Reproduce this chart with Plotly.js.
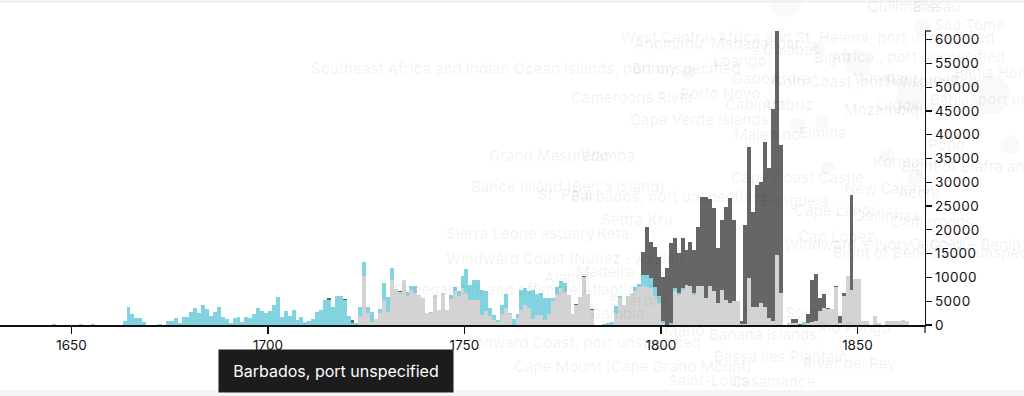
<!DOCTYPE html>
<html>
<head>
<meta charset="utf-8">
<script src="https://cdn.plot.ly/plotly-3.0.1.min.js"></script>
<style>
  html, body { margin: 0; padding: 0; background: #ffffff; }
  #chart { width: 1024px; height: 396px; }
  #chart .ytick text { letter-spacing: 0.5px; }
</style>
</head>
<body>
<div id="chart"></div>
<script>
// ---- data ----
const years = [
  1640,1641,1642,1643,1644,1645,1646,1647,1648,1649,
  1650,1651,1652,1653,1654,1655,1656,1657,1658,1659,
  1660,1661,1662,1663,1664,1665,1666,1667,1668,1669,
  1670,1671,1672,1673,1674,1675,1676,1677,1678,1679,
  1680,1681,1682,1683,1684,1685,1686,1687,1688,1689,
  1690,1691,1692,1693,1694,1695,1696,1697,1698,1699,
  1700,1701,1702,1703,1704,1705,1706,1707,1708,1709,
  1710,1711,1712,1713,1714,1715,1716,1717,1718,1719,
  1720,1721,1722,1723,1724,1725,1726,1727,1728,1729,
  1730,1731,1732,1733,1734,1735,1736,1737,1738,1739,
  1740,1741,1742,1743,1744,1745,1746,1747,1748,1749,
  1750,1751,1752,1753,1754,1755,1756,1757,1758,1759,
  1760,1761,1762,1763,1764,1765,1766,1767,1768,1769,
  1770,1771,1772,1773,1774,1775,1776,1777,1778,1779,
  1780,1781,1782,1783,1784,1785,1786,1787,1788,1789,
  1790,1791,1792,1793,1794,1795,1796,1797,1798,1799,
  1800,1801,1802,1803,1804,1805,1806,1807,1808,1809,
  1810,1811,1812,1813,1814,1815,1816,1817,1818,1819,
  1820,1821,1822,1823,1824,1825,1826,1827,1828,1829,
  1830,1831,1832,1833,1834,1835,1836,1837,1838,1839,
  1840,1841,1842,1843,1844,1845,1846,1847,1848,1849,
  1850,1851,1852,1853,1854,1855,1856,1857,1858,1859,
  1860,1861,1862,1863,1864,1865,1866,1867,1868,1869
];

// light grey series (bottom of each stack)
const greyValues = [
  0,0,0,0,0,0,0,0,0,0,
  0,0,0,0,0,0,0,0,0,0,
  0,0,0,0,0,0,0,0,0,0,
  0,0,0,0,0,0,0,0,0,0,
  0,0,0,0,0,0,0,0,0,0,
  0,0,0,0,0,0,0,0,0,0,
  0,0,0,0,0,0,0,0,0,0,
  0,0,0,0,0,0,0,0,0,0,
  0,0,0,1820,10200,2520,560,1260,2520,5320,
  2660,9520,7560,6930,9520,6020,7560,6720,6370,5670,
  2520,2500,6370,3220,6720,3220,5460,7070,6160,7770,
  6720,5320,5180,5180,2170,2870,1820,1000,700,2310,
  3570,2310,0,1470,3220,4130,3570,1260,2170,2170,
  1120,2310,5000,6500,7770,6900,6300,2300,4270,5800,
  10000,6500,3100,0,0,0,0,0,2600,5600,
  4300,6000,6300,7200,7900,8100,8000,7800,6000,4600,
  400,0,0,7060,6360,7400,8460,8110,6360,8110,
  8110,5660,8110,7060,4610,7410,5310,4610,4960,4960,
  300,300,9860,3780,3780,4610,3780,1470,750,14750,
  6700,0,400,500,500,0,100,500,600,800,
  2870,3570,3300,3350,8000,500,6150,10350,7410,9720,
  9650,770,770,0,1820,420,0,770,770,770,
  770,1120,770,0,0,0,0,0,0,0
];

// cyan series (middle of each stack)
const cyanValues = [
  0,0,0,0,0,200,0,0,0,0,
  0,0,200,0,0,300,0,0,0,0,
  0,0,100,800,3800,2400,1500,1500,600,0,
  0,0,300,0,900,800,1400,350,1750,1750,
  2650,3500,2450,4270,3360,1960,2800,3700,1750,1260,
  490,1470,1600,700,1600,1470,2240,3500,3000,2450,
  2940,4200,5800,1600,2940,1890,3220,1050,1600,700,
  900,1260,2800,3150,5180,5320,3700,6000,6000,5200,
  1820,500,500,2030,3000,1330,2100,0,840,3500,
  3140,2450,0,0,0,840,560,1400,0,0,
  0,300,0,0,0,0,910,910,910,2450,
  5110,3150,4340,4340,5250,4200,1750,1000,400,1820,
  2940,300,1260,840,4200,3640,3500,6160,4340,4550,
  4550,3360,700,1500,1500,2000,0,0,0,0,
  0,0,0,0,0,250,400,700,1500,500,
  0,200,200,800,800,2400,2500,2000,2000,1400,
  500,0,400,700,340,350,0,0,340,0,
  0,0,0,0,0,0,0,0,0,0,
  0,0,0,0,0,0,0,0,0,0,
  0,0,0,0,0,0,500,0,0,0,
  0,0,0,0,0,0,0,0,0,0,
  0,0,0,0,0,0,0,0,0,0,
  0,0,0,0,0,0,0,0,0,0
];

// dark grey series (top of each stack)
const darkValues = [
  0,0,0,0,0,0,0,0,0,0,
  0,0,0,0,0,0,0,0,0,0,
  0,0,0,0,0,0,0,0,0,0,
  0,0,0,0,0,0,0,0,0,0,
  0,0,0,0,0,0,0,0,0,0,
  0,0,0,0,0,0,0,0,0,0,
  0,0,0,0,0,0,0,0,0,0,
  0,0,0,0,0,300,0,0,0,350,
  0,500,0,0,0,0,0,0,0,0,
  0,0,0,200,0,0,0,0,0,0,
  0,0,0,0,0,0,0,0,0,0,
  0,0,0,0,0,0,0,0,0,0,
  0,0,0,0,0,0,0,0,0,0,
  0,0,0,0,0,0,0,0,200,0,
  200,0,250,0,0,0,0,0,0,0,
  0,0,0,0,0,4900,10200,7700,8300,8400,
  9200,11900,16800,10490,8400,10500,7340,9440,9100,12590,
  18740,21190,18290,17490,11540,14690,19590,22030,17140,0,
  600,20750,27640,20070,25620,25400,34720,31530,44650,47050,
  31100,0,0,800,700,300,0,1800,8800,9900,
  2790,3000,300,0,250,1300,550,0,19930,0,
  0,0,0,0,0,0,0,0,0,0,
  0,0,0,0,0,0,0,0,0,0
];

const xTickValues = [1650, 1700, 1750, 1800, 1850];
const yTickValues = [0,5000,10000,15000,20000,25000,30000,35000,40000,45000,50000,55000,60000];

const tooltipText = "Barbados, port unspecified";

// faded background place names: [text, left px, centre-y px]
const placeLabels = [
  ["Quilimane", 866, 6], ["Bissau", 912, 7], ["Sao Tome", 933, 24],
  ["West Central Africa and St. Helena, port unspecified", 620, 37],
  ["Anomabu", 633, 43], ["Madagascar", 710, 43], ["Calabar", 762, 50],
  ["Bight", 813, 57], ["Africa., port unspecified", 830, 56],
  ["Loango", 712, 60], ["Southeast Africa and Indian Ocean islands, port unspecified", 310, 68],
  ["Bonny", 631, 68], ["Bahia Honda", 953, 72], ["Gabon", 731, 79], ["Ardra", 770, 79],
  ["Gold Coast, port unspecified", 771, 81], ["Whydah", 853, 79], ["Rio Nunez", 885, 80],
  ["Porto Novo", 679, 93], ["Cameroons River", 570, 97], ["Bahia, port unspecified", 929, 99],
  ["Cabinda", 724, 105], ["Ambriz", 761, 105], ["Lagos", 875, 104], ["Mozambique", 843, 110],
  ["Cape Verde Islands", 629, 119], ["Malembo", 733, 134], ["Elmina", 798, 132],
  ["Popo", 927, 144], ["Grand Mesurado", 488, 155], ["Wamba", 580, 155],
  ["Kormantine", 872, 161], ["Bight of Biafra and Gulf of Guinea islands, port unspecified", 900, 166],
  ["Cape Coast Castle", 730, 177], ["Bance Island (Ben's Island)", 470, 187],
  ["New Calabar", 843, 188], ["Accra", 897, 193], ["St. Paul", 537, 194],
  ["Barbados, port unspecified", 570, 196], ["Benguela", 760, 200],
  ["Cape Lahou", 793, 210], ["Gallinhas", 853, 215], ["Settra Kru", 600, 220],
  ["Cameroons", 890, 221], ["Sierra Leone estuary", 445, 233], ["Keta", 596, 233],
  ["Cap Lopez", 797, 236], ["Cacheu", 909, 243], ["Windward + Ivory + Gold + Benin", 783, 245],
  ["Bight of Benin, port unspecified", 832, 253], ["Windward Coast (Nunez - Assini)", 445, 258],
  ["Madeira", 575, 271], ["Alamo", 543, 277], ["Senegambia and offshore Atlantic", 393, 289],
  ["Sherbro", 609, 300], ["Gambia", 589, 313], ["Soyo", 784, 312],
  ["Mano", 663, 330], ["Rio Pongo", 817, 328], ["Banana Islands", 708, 334],
  ["Windward Coast, port unspecified", 455, 342], ["Bassa Iles Plantain", 713, 357],
  ["River del Rey", 802, 363], ["Cape Mount (Cape Grand Mount)", 513, 366],
  ["Saint-Louis", 667, 380], ["Casamance", 730, 381]
];

// faint background circles: [centre x px, centre y px, radius px]
const bgCircles = [
  [785, 0, 17], [688, 73, 7], [818, 48, 7], [858, 63, 13], [912, 97, 16],
  [798, 125, 8], [822, 122, 7], [828, 168, 7], [887, 157, 8], [915, 177, 8],
  [922, 28, 8], [990, 95, 20], [1010, 145, 10]
];

// ---- geometry of the plot area (pixels) ----
const PLOT_LEFT = 0, PLOT_RIGHT = 925, PLOT_TOP = 31, PLOT_BOTTOM = 325;
const PW = PLOT_RIGHT - PLOT_LEFT, PH = PLOT_BOTTOM - PLOT_TOP;
const px2x = p => (p - PLOT_LEFT) / PW;
const py2y = p => (PLOT_BOTTOM - p) / PH;

function barTrace(name, vals, color) {
  return {
    type: 'bar', name: name, x: years, y: vals,
    width: 1, offset: 0,
    marker: { color: color, line: { width: 0 } },
    hoverinfo: 'skip', showlegend: false
  };
}

const traces = [
  barTrace('Grey', greyValues, '#d3d3d3'),
  barTrace('Cyan', cyanValues, '#82d3e0'),
  barTrace('Dark', darkValues, '#666666')
];

const annotations = placeLabels.map(l => ({
  text: l[0], xref: 'paper', yref: 'paper',
  x: px2x(l[1]), y: py2y(l[2]), xanchor: 'left', yanchor: 'middle',
  showarrow: false, borderpad: 0,
  font: { family: 'Inter, "Open Sans", sans-serif', size: 15, weight: 500, color: 'rgba(0,0,0,0.06)' }
}));

annotations.push({
  text: tooltipText, xref: 'paper', yref: 'paper',
  x: px2x(336), y: py2y(371), xanchor: 'center', yanchor: 'middle',
  showarrow: false, bgcolor: '#1c1c1c', borderpad: 0, width: 234, height: 42,
  align: 'center', valign: 'middle',
  font: { family: 'Inter, "Open Sans", sans-serif', size: 16, color: '#ffffff' }
});

const shapes = bgCircles.map(c => ({
  type: 'circle', xref: 'paper', yref: 'paper', layer: 'below',
  x0: px2x(c[0] - c[2]), x1: px2x(c[0] + c[2]),
  y0: py2y(c[1] + c[2]), y1: py2y(c[1] - c[2]),
  fillcolor: 'rgba(0,0,0,0.025)', line: { width: 0 }
}));
// top grey border band and bottom band
shapes.push({ type: 'rect', xref: 'paper', yref: 'paper', layer: 'below',
  x0: px2x(0), x1: px2x(1024), y0: py2y(2.5), y1: py2y(0.5),
  fillcolor: '#efefef', line: { width: 0 } });
shapes.push({ type: 'rect', xref: 'paper', yref: 'paper', layer: 'below',
  x0: px2x(0), x1: px2x(1024), y0: py2y(396), y1: py2y(390),
  fillcolor: '#f4f4f4', line: { width: 0 } });
// outer ticks of the axis domains
shapes.push({ type: 'line', xref: 'paper', yref: 'paper', layer: 'above',
  x0: 1, x1: px2x(931), y0: 1, y1: 1, line: { color: '#111', width: 1.2 } });
shapes.push({ type: 'line', xref: 'paper', yref: 'paper', layer: 'above',
  x0: 1, x1: 1, y0: 0, y1: py2y(333), line: { color: '#111', width: 1.2 } });

const layout = {
  width: 1024, height: 396,
  margin: { l: PLOT_LEFT, r: 1024 - PLOT_RIGHT, t: PLOT_TOP, b: 396 - PLOT_BOTTOM, pad: 0 },
  paper_bgcolor: '#ffffff', plot_bgcolor: 'rgba(0,0,0,0)',
  barmode: 'stack', bargap: 0,
  font: { family: 'Inter, "Open Sans", sans-serif', size: 13, color: '#111' },
  xaxis: {
    type: 'linear', range: [1631.8, 1867.2],
    tickvals: xTickValues, ticktext: xTickValues.map(String),
    ticks: 'outside', ticklen: 7, tickwidth: 1.2, tickcolor: '#111',
    showline: true, linecolor: '#111', linewidth: 1.6,
    showgrid: false, zeroline: false, fixedrange: true,
    tickfont: { size: 13.5, color: '#111' }
  },
  yaxis: {
    side: 'right', range: [0, 61800],
    tickvals: yTickValues, tickformat: 'd',
    ticks: 'outside', ticklen: 6, tickwidth: 1.2, tickcolor: '#111',
    showline: true, linecolor: '#111', linewidth: 1.2,
    showgrid: false, zeroline: false, fixedrange: true,
    tickfont: { size: 13.5, color: '#111' }
  },
  annotations: annotations,
  shapes: shapes,
  hovermode: false
};

Plotly.newPlot('chart', traces, layout, { displayModeBar: false, staticPlot: true });
</script>
</body>
</html>
